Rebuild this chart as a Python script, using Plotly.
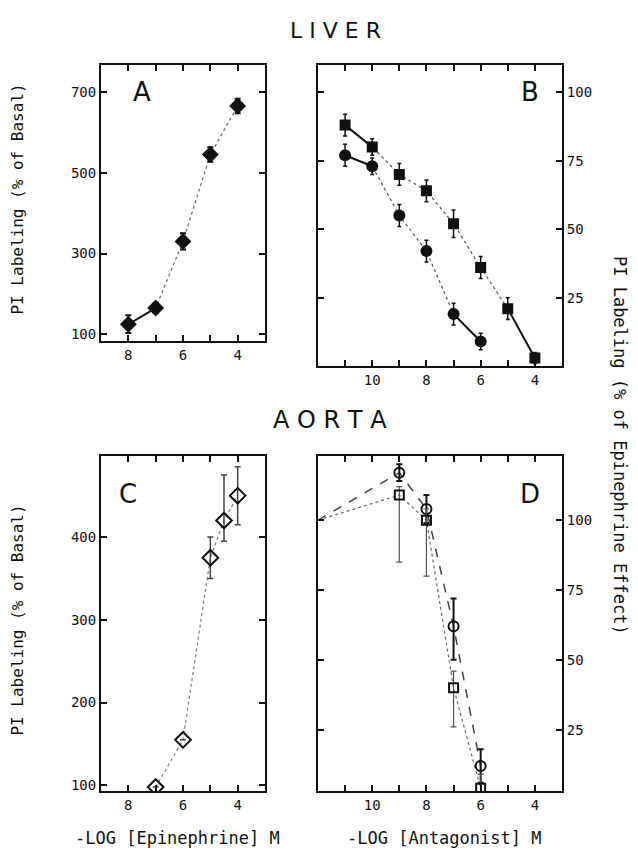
import plotly.graph_objects as go

# ---------------- data ----------------
# Panel A (liver, epinephrine dose-response)
a_x = [8, 7, 6, 5, 4]
a_y = [125, 165, 330, 545, 665]
a_err = [22, 12, 20, 18, 18]

# Panel B (liver, antagonists)
b_circ_x = [11, 10, 9, 8, 7, 6]
b_circ_y = [77, 73, 55, 42, 19, 9]
b_circ_err = [4, 3, 4, 4, 4, 3]
b_sq_x = [11, 10, 9, 8, 7, 6, 5, 4]
b_sq_y = [88, 80, 70, 64, 52, 36, 21, 3]
b_sq_err = [4, 3, 4, 4, 5, 4, 4, 2]

# Panel C (aorta, epinephrine dose-response)
c_x = [7, 6, 5, 4.5, 4]
c_y = [98, 155, 375, 420, 450]
c_err_plus = [0, 0, 25, 55, 35]
c_err_minus = [0, 0, 25, 25, 35]

# Panel D (aorta, antagonists)
d1_x = [12, 9, 8, 7, 6]
d1_y = [100, 117, 104, 62, 12]
d1_err_plus = [0, 3, 5, 10, 6]
d1_err_minus = [0, 3, 5, 12, 6]
d2_x = [12, 9, 8, 7, 6]
d2_y = [100, 109, 100, 40, 4]
d2_err_plus = [0, 3, 4, 6, 5]
d2_err_minus = [0, 24, 20, 14, 4]

# tick definitions
a_xticks = [9, 8, 7, 6, 5, 4]
a_xtext = ['', '8', '', '6', '', '4']
b_xticks = [11, 10, 9, 8, 7, 6, 5, 4]
b_xtext = ['', '10', '', '8', '', '6', '', '4']
a_yticks = [100, 300, 500, 700]
c_yticks = [100, 200, 300, 400]
b_yticks = [25, 50, 75, 100]

FONT = "DejaVu Sans Mono"
BLACK = "#111111"
W, H = 638, 858

fig = go.Figure()

def px_x(p):
    return p / W

def px_y(p):
    return 1 - p / H

# ---------- Panel A ----------
fig.add_trace(go.Scatter(x=a_x, y=a_y, xaxis='x', yaxis='y', mode='lines',
                         line=dict(color='#666666', width=1.2, dash='dot')))
fig.add_trace(go.Scatter(x=a_x[:2], y=a_y[:2], xaxis='x', yaxis='y', mode='lines',
                         line=dict(color=BLACK, width=2)))
fig.add_trace(go.Scatter(x=a_x, y=a_y, xaxis='x', yaxis='y', mode='markers',
                         marker=dict(symbol='diamond', size=13, color=BLACK),
                         error_y=dict(type='data', array=a_err, color=BLACK, thickness=2, width=3)))

# ---------- Panel B ----------
fig.add_trace(go.Scatter(x=b_circ_x, y=b_circ_y, xaxis='x2', yaxis='y2', mode='lines',
                         line=dict(color='#555555', width=1.2, dash='dot')))
fig.add_trace(go.Scatter(x=b_circ_x[:2], y=b_circ_y[:2], xaxis='x2', yaxis='y2', mode='lines',
                         line=dict(color=BLACK, width=2)))
fig.add_trace(go.Scatter(x=b_circ_x[-2:], y=b_circ_y[-2:], xaxis='x2', yaxis='y2', mode='lines',
                         line=dict(color=BLACK, width=2)))
fig.add_trace(go.Scatter(x=b_sq_x, y=b_sq_y, xaxis='x2', yaxis='y2', mode='lines',
                         line=dict(color='#555555', width=1.2, dash='dot')))
fig.add_trace(go.Scatter(x=b_sq_x[:2], y=b_sq_y[:2], xaxis='x2', yaxis='y2', mode='lines',
                         line=dict(color=BLACK, width=2)))
fig.add_trace(go.Scatter(x=b_sq_x[-2:], y=b_sq_y[-2:], xaxis='x2', yaxis='y2', mode='lines',
                         line=dict(color=BLACK, width=2)))
fig.add_trace(go.Scatter(x=b_circ_x, y=b_circ_y, xaxis='x2', yaxis='y2', mode='markers',
                         marker=dict(symbol='circle', size=12, color=BLACK),
                         error_y=dict(type='data', array=b_circ_err, color=BLACK, thickness=1.5, width=2)))
fig.add_trace(go.Scatter(x=b_sq_x, y=b_sq_y, xaxis='x2', yaxis='y2', mode='markers',
                         marker=dict(symbol='square', size=11, color=BLACK),
                         error_y=dict(type='data', array=b_sq_err, color=BLACK, thickness=1.5, width=2)))

# ---------- Panel C ----------
fig.add_trace(go.Scatter(x=c_x, y=c_y, xaxis='x3', yaxis='y3', mode='lines',
                         line=dict(color='#777777', width=1.2, dash='dot')))
fig.add_trace(go.Scatter(x=c_x, y=c_y, xaxis='x3', yaxis='y3', mode='markers',
                         marker=dict(symbol='diamond-open', size=12, color=BLACK, line=dict(width=2)),
                         error_y=dict(type='data', symmetric=False, array=c_err_plus,
                                      arrayminus=c_err_minus, color='#444444', thickness=1.5, width=3)))

# ---------- Panel D ----------
fig.add_trace(go.Scatter(x=d1_x, y=d1_y, xaxis='x4', yaxis='y4', mode='lines',
                         line=dict(color='#444444', width=1.5, dash='dash')))
fig.add_trace(go.Scatter(x=d2_x, y=d2_y, xaxis='x4', yaxis='y4', mode='lines',
                         line=dict(color='#666666', width=1.2, dash='dot')))
fig.add_trace(go.Scatter(x=d1_x[1:], y=d1_y[1:], xaxis='x4', yaxis='y4', mode='markers',
                         marker=dict(symbol='circle-open', size=10, color=BLACK, line=dict(width=2)),
                         error_y=dict(type='data', symmetric=False, array=d1_err_plus[1:],
                                      arrayminus=d1_err_minus[1:], color=BLACK, thickness=2, width=3)))
fig.add_trace(go.Scatter(x=d2_x[1:], y=d2_y[1:], xaxis='x4', yaxis='y4', mode='markers',
                         marker=dict(symbol='square-open', size=9, color=BLACK, line=dict(width=2)),
                         error_y=dict(type='data', symmetric=False, array=d2_err_plus[1:],
                                      arrayminus=d2_err_minus[1:], color='#555555', thickness=1.2, width=3)))

# ---------- axes ----------
def xax(dom, rng, ticks, text, anchor):
    return dict(domain=dom, range=rng, anchor=anchor, tickmode='array', tickvals=ticks,
                ticktext=text, ticks='inside', ticklen=6, tickwidth=2, tickcolor=BLACK,
                showline=True, linewidth=2, linecolor=BLACK, mirror='ticks',
                showgrid=False, zeroline=False, fixedrange=True,
                tickfont=dict(family=FONT, size=14, color=BLACK))

def yax(dom, rng, ticks, anchor, side):
    return dict(domain=dom, range=rng, anchor=anchor, side=side, tickmode='array', tickvals=ticks,
                ticks='inside', ticklen=6, tickwidth=2, tickcolor=BLACK,
                showline=True, linewidth=2, linecolor=BLACK, mirror='ticks',
                showgrid=False, zeroline=False, fixedrange=True,
                tickfont=dict(family=FONT, size=14, color=BLACK))

xA = [px_x(101), px_x(265)]
xB = [px_x(318), px_x(562)]
yA = [px_y(342), px_y(65)]
yB = [px_y(367), px_y(65)]
yC = [px_y(793), px_y(457)]

fig.update_layout(
    xaxis=xax(xA, [9, 3], a_xticks, a_xtext, 'y'),
    yaxis=yax(yA, [83, 767], a_yticks, 'x', 'left'),
    xaxis2=xax(xB, [12, 3], b_xticks, b_xtext, 'y2'),
    yaxis2=yax(yB, [0, 110], b_yticks, 'x2', 'right'),
    xaxis3=xax(xA, [9, 3], a_xticks, a_xtext, 'y3'),
    yaxis3=yax(yC, [93, 498], c_yticks, 'x3', 'left'),
    xaxis4=xax(xB, [12, 3], b_xticks, b_xtext, 'y4'),
    yaxis4=yax(yC, [3, 123], b_yticks, 'x4', 'right'),
)

ann = []
def text(x, y, s, size, angle=0, family=FONT):
    ann.append(dict(x=px_x(x), y=px_y(y), xref='paper', yref='paper', text=s, showarrow=False,
                    textangle=angle, xanchor='center', yanchor='middle',
                    font=dict(family=family, size=size, color=BLACK)))

text(335, 31, 'L I V E R', 22, family='DejaVu Sans')
text(330, 421, 'A O R T A', 24, family='DejaVu Sans')
text(142, 92, 'A', 26, family='DejaVu Sans')
text(530, 92, 'B', 26, family='DejaVu Sans')
text(128, 495, 'C', 26, family='DejaVu Sans')
text(530, 495, 'D', 26, family='DejaVu Sans')
text(18, 200, 'PI Labeling (% of Basal)', 16, -90)
text(18, 622, 'PI Labeling (% of Basal)', 16, -90)
text(620, 446, 'PI Labeling (% of Epinephrine Effect)', 17, 90)
text(177, 840, '-LOG [Epinephrine] M', 17)
text(444, 840, '-LOG [Antagonist] M', 17)

fig.update_layout(
    annotations=ann,
    width=W, height=H,
    margin=dict(l=0, r=0, t=0, b=0),
    paper_bgcolor='white', plot_bgcolor='white',
    showlegend=False,
)

fig.write_html("out.html")
